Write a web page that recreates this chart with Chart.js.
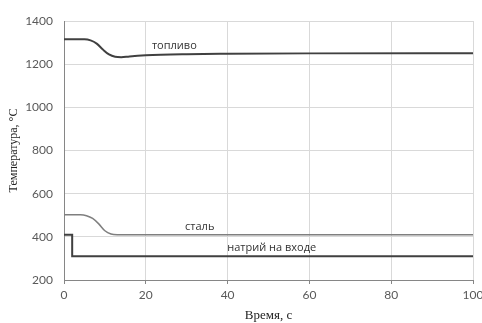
<!DOCTYPE html>
<html>
<head>
<meta charset="utf-8">
<script src="https://cdn.jsdelivr.net/npm/chart.js@4"></script>
<style>
  html, body { margin: 0; padding: 0; background: #fff; }
  #chart { display: block; }
</style>
</head>
<body>
<canvas id="chart" width="482" height="323"></canvas>
<script>
// Данные (время, с -> температура, °C)
const fuelTime = [0, 5, 6.5, 8, 9.5, 11, 12.5, 14, 16, 20, 30, 40, 60, 100];
const fuelTemp = [1315, 1315, 1310, 1295, 1268, 1245, 1234, 1232, 1236, 1241, 1246, 1248, 1250, 1251];

const steelTime = [0, 4, 5.5, 7, 8.5, 10, 11.5, 13, 100];
const steelTemp = [502, 502, 498, 485, 460, 428, 413, 410, 410];

const sodiumTime = [0, 2, 2, 100];
const sodiumTemp = [410, 410, 310, 310];

const xTicks = [0, 20, 40, 60, 80, 100];
const yTicks = [200, 400, 600, 800, 1000, 1200, 1400];

// подписи кривых: текст и точка привязки в координатах данных
const labelTexts = ['топливо', 'сталь', 'натрий на входе'];
const labelX = [21.5, 29.6, 39.9];
const labelY = [1284, 445, 348];

function toPoints(xs, ys) {
    return xs.map((x, i) => ({ x: x, y: ys[i] }));
}

// плагин для подписей прямо на поле графика
const curveLabels = {
    id: 'curveLabels',
    afterDatasetsDraw(chart) {
        const ctx = chart.ctx;
        const xs = chart.scales.x;
        const ys = chart.scales.y;
        ctx.save();
        ctx.font = '11px "Open Sans", sans-serif';
        ctx.fillStyle = '#333';
        ctx.textAlign = 'left';
        ctx.textBaseline = 'middle';
        labelTexts.forEach((t, i) => {
            ctx.fillText(t, xs.getPixelForValue(labelX[i]), ys.getPixelForValue(labelY[i]));
        });
        ctx.restore();
    }
};

const tickFont = { family: 'Lato, "Open Sans", sans-serif', size: 12 };

new Chart(document.getElementById('chart'), {
    type: 'line',
    data: {
        datasets: [
            {
                label: 'топливо',
                data: toPoints(fuelTime, fuelTemp),
                borderColor: '#404040',
                borderWidth: 2,
                cubicInterpolationMode: 'monotone',
                pointRadius: 0
            },
            {
                label: 'сталь',
                data: toPoints(steelTime, steelTemp),
                borderColor: '#7f7f7f',
                borderWidth: 1.5,
                cubicInterpolationMode: 'monotone',
                pointRadius: 0
            },
            {
                label: 'натрий на входе',
                data: toPoints(sodiumTime, sodiumTemp),
                borderColor: '#404040',
                borderWidth: 2,
                tension: 0,
                pointRadius: 0
            }
        ]
    },
    options: {
        responsive: false,
        animation: false,
        layout: { padding: { top: 21, right: 9, left: 0, bottom: 0 } },
        plugins: {
            legend: { display: false },
            tooltip: { enabled: false }
        },
        scales: {
            x: {
                type: 'linear',
                min: 0,
                max: 100,
                afterBuildTicks: s => { s.ticks = xTicks.map(v => ({ value: v })); },
                afterFit: s => { s.height = 43; s.paddingLeft = 0; s.paddingRight = 0; },
                ticks: { color: '#595959', font: tickFont, padding: 4, maxRotation: 0, callback: v => String(v) },
                grid: { color: '#d9d9d9', lineWidth: 1, drawTicks: true, tickLength: 4, tickColor: '#868686' },
                border: { color: '#868686', width: 1 },
                title: {
                    display: true,
                    text: 'Время, с',
                    color: '#222',
                    font: { family: '"Liberation Serif", "DejaVu Serif", serif', size: 13 },
                    padding: { top: 0, bottom: 0 }
                }
            },
            y: {
                min: 200,
                max: 1400,
                afterBuildTicks: s => { s.ticks = yTicks.map(v => ({ value: v })); },
                afterFit: s => { s.width = 64; s.paddingTop = 0; s.paddingBottom = 0; },
                ticks: { color: '#595959', font: tickFont, padding: 11, callback: v => String(v) },
                grid: { color: '#d9d9d9', lineWidth: 1, drawTicks: false },
                border: { color: '#868686', width: 1 },
                title: {
                    display: true,
                    text: 'Температура, °C',
                    color: '#222',
                    font: { family: '"Liberation Serif", "DejaVu Serif", serif', size: 12 },
                    padding: { top: 7, bottom: 2 }
                }
            }
        }
    },
    plugins: [curveLabels]
});
</script>
</body>
</html>
